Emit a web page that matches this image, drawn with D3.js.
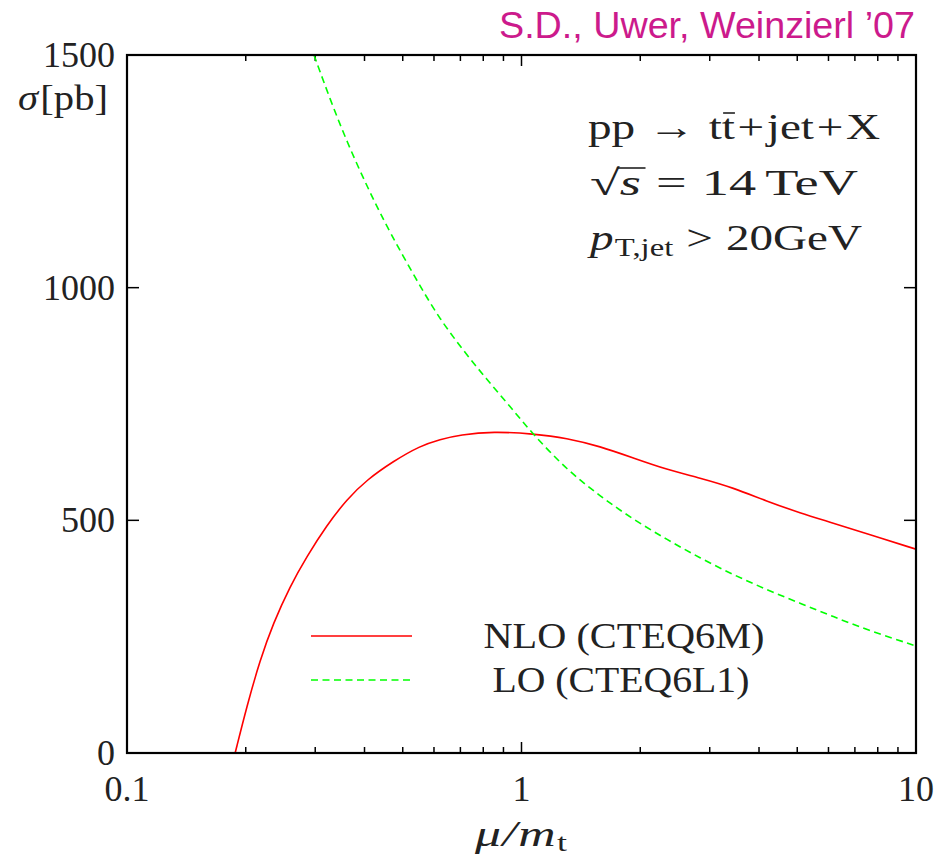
<!DOCTYPE html>
<html><head><meta charset="utf-8">
<script src="https://cdn.jsdelivr.net/npm/d3@7"></script>
<style>
html,body{margin:0;padding:0;background:#fff;}
svg{display:block;}
</style></head>
<body>
<svg id="chart" width="952" height="857"></svg>
<script>
// ---- data ----
const muNLO    = [0.188, 0.2012, 0.2174, 0.2349, 0.2589, 0.2855, 0.3208, 0.3606, 0.4053, 0.4732, 0.5531, 0.6215, 0.699, 0.848, 1.072, 1.302, 1.581, 1.92, 2.334, 2.835, 3.443, 4.183, 5.08, 6.17, 7.50, 10];
const sigmaNLO = [0,     100,    200,    279,    358,    422,    489,    545,    587,    627,    660,    674,    684,   691,   686,   677,   659,   634,  609,   591,   570,   541,   516,  494,  471,  438];
const muLO     = [0.2978, 0.3317, 0.3676, 0.413, 0.4642, 0.5531, 0.6215, 0.7121, 0.8163, 0.935, 1.0715, 1.302, 1.581, 1.92, 2.334, 2.835, 3.443, 4.183, 5.08, 6.17, 7.50, 10];
const sigmaLO  = [1500,   1391,   1298,   1204,  1118,   1003,   932,    865,    803,    745,   684,    609,   552,   502,  459,   419,   383,   351,   322,  293,  265,  230];
const xMajorTicks = [0.1, 1, 10];
const xTickLabels = ["0.1", "1", "10"];
const xMinorTicks = [0.2,0.3,0.4,0.5,0.6,0.7,0.8,0.9,2,3,4,5,6,7,8,9];
const yTicks = [0, 500, 1000, 1500];
const yTickLabels = ["0", "500", "1000", "1500"];
const seriesNames = ["NLO (CTEQ6M)", "LO (CTEQ6L1)"];
const seriesColors = ["#ff0000", "#00ff00"];

// ---- layout ----
const L = 127, T = 55, R = 916, B = 753;
const svg = d3.select("#chart");
const serif = "'Liberation Serif', 'DejaVu Serif', serif";
const ink = "#222";
const x = d3.scaleLog().domain([0.1, 10]).range([L, R]);
const y = d3.scaleLinear().domain([0, 1500]).range([B, T]);

svg.append("defs").append("clipPath").attr("id","clip")
  .append("rect").attr("x",L).attr("y",T).attr("width",R-L).attr("height",B-T);

// ticks
const tk = svg.append("g").attr("stroke","#000").attr("stroke-width",1.5);
xMajorTicks.forEach(v=>{
  tk.append("line").attr("x1",x(v)).attr("x2",x(v)).attr("y1",B).attr("y2",B-11);
  tk.append("line").attr("x1",x(v)).attr("x2",x(v)).attr("y1",T).attr("y2",T+11);
});
xMinorTicks.forEach(v=>{
  tk.append("line").attr("x1",x(v)).attr("x2",x(v)).attr("y1",B).attr("y2",B-6);
  tk.append("line").attr("x1",x(v)).attr("x2",x(v)).attr("y1",T).attr("y2",T+6);
});
yTicks.forEach(v=>{
  tk.append("line").attr("x1",L).attr("x2",L+12).attr("y1",y(v)).attr("y2",y(v));
  tk.append("line").attr("x1",R).attr("x2",R-12).attr("y1",y(v)).attr("y2",y(v));
});

// curves
const line = d3.line().x(d=>x(d[0])).y(d=>y(d[1])).curve(d3.curveBasis);
const gC = svg.append("g").attr("clip-path","url(#clip)");
gC.append("path").attr("d", line(muNLO.map((m,i)=>[m,sigmaNLO[i]])))
  .attr("fill","none").attr("stroke",seriesColors[0]).attr("stroke-width",1.6);
gC.append("path").attr("d", line(muLO.map((m,i)=>[m,sigmaLO[i]])))
  .attr("fill","none").attr("stroke",seriesColors[1]).attr("stroke-width",1.6)
  .attr("stroke-dasharray","7,4.5");

// frame
svg.append("rect").attr("x",L).attr("y",T).attr("width",R-L).attr("height",B-T)
  .attr("fill","none").attr("stroke","#000").attr("stroke-width",2.2);

// rich text helper: lays out pieces, then stretches horizontally to a target width
function rich(x0, y0, pieces, target, anchor){
  const g = svg.append("g");
  let cx = 0; const out=[];
  pieces.forEach(p=>{
    cx += (p.gap||0);
    const t = g.append("text").attr("x",cx).attr("y",(p.dy||0))
      .attr("font-family",serif).attr("font-size",p.size||36).attr("fill",ink)
      .attr("font-style",p.it?"italic":"normal").text(p.t);
    const w = t.node().getComputedTextLength();
    out.push({x:cx,w:w});
    cx += w;
  });
  const s = target ? target/cx : 1;
  let tx = x0;
  if(anchor==="middle") tx = x0 - (target||cx)/2;
  if(anchor==="end") tx = x0 - (target||cx);
  g.attr("transform",`translate(${tx},${y0}) scale(${s},1)`);
  return {g:g, pieces:out};
}

// tick labels
xMajorTicks.forEach((v,i)=>{
  svg.append("text").attr("x",x(v)).attr("y",801).attr("text-anchor","middle")
    .attr("font-family",serif).attr("font-size",36).attr("fill",ink).text(xTickLabels[i]);
});
yTicks.forEach((v,i)=>{
  svg.append("text").attr("x",115).attr("y",y(v)+12).attr("text-anchor","end")
    .attr("font-family",serif).attr("font-size",36).attr("fill",ink).text(yTickLabels[i]);
});

// axis titles
rich(108, 110, [{t:"σ",it:true},{t:"[pb]",gap:2}], 90, "end");
rich(521, 846, [{t:"μ",it:true},{t:"/",it:true,gap:1},{t:"m",it:true,gap:1},{t:"t",size:25,dy:5,gap:1}], 92, "middle");

// header
svg.append("text").attr("x",915).attr("y",38).attr("text-anchor","end")
  .attr("font-family","'Liberation Sans', Arial, sans-serif").attr("font-size",36)
  .attr("fill","#cc1a8c").attr("textLength",416).attr("lengthAdjust","spacingAndGlyphs")
  .text("S.D., Uwer, Weinzierl ’07");

// annotation
const l1 = rich(588, 139, [{t:"pp"},{t:"→",gap:10},{t:"t",gap:10},{t:"t"},{t:"+",gap:2},{t:"jet",gap:2},{t:"+",gap:2},{t:"X",gap:2}], 292);
l1.g.append("line").attr("x1",l1.pieces[3].x+1).attr("x2",l1.pieces[3].x+l1.pieces[3].w).attr("y1",-26).attr("y2",-26)
  .attr("stroke",ink).attr("stroke-width",1.6);

const l2 = rich(590, 195, [{t:"√"},{t:"s",it:true,gap:0},{t:"=",gap:10},{t:"14",gap:10},{t:"TeV",gap:6}], 268);
l2.g.append("line").attr("x1",l2.pieces[0].x+l2.pieces[0].w-2).attr("x2",l2.pieces[1].x+l2.pieces[1].w+3).attr("y1",-27).attr("y2",-27)
  .attr("stroke",ink).attr("stroke-width",1.6);

rich(590, 250, [{t:"p",it:true},{t:"T,jet",size:25,dy:6,gap:1},{t:">",gap:10},{t:"20GeV",gap:10}], 272);

// legend
const legY = [636, 680];
const legW = [281, 257];
const legC = [624, 621];
seriesNames.forEach((n,i)=>{
  svg.append("line").attr("x1",311).attr("x2",412).attr("y1",legY[i]).attr("y2",legY[i])
    .attr("stroke",seriesColors[i]).attr("stroke-width",1.6)
    .attr("stroke-dasharray", i===1 ? "7,4.5" : null);
  rich(legC[i], legY[i]+12, [{t:n}], legW[i], "middle");
});
</script>
</body></html>
